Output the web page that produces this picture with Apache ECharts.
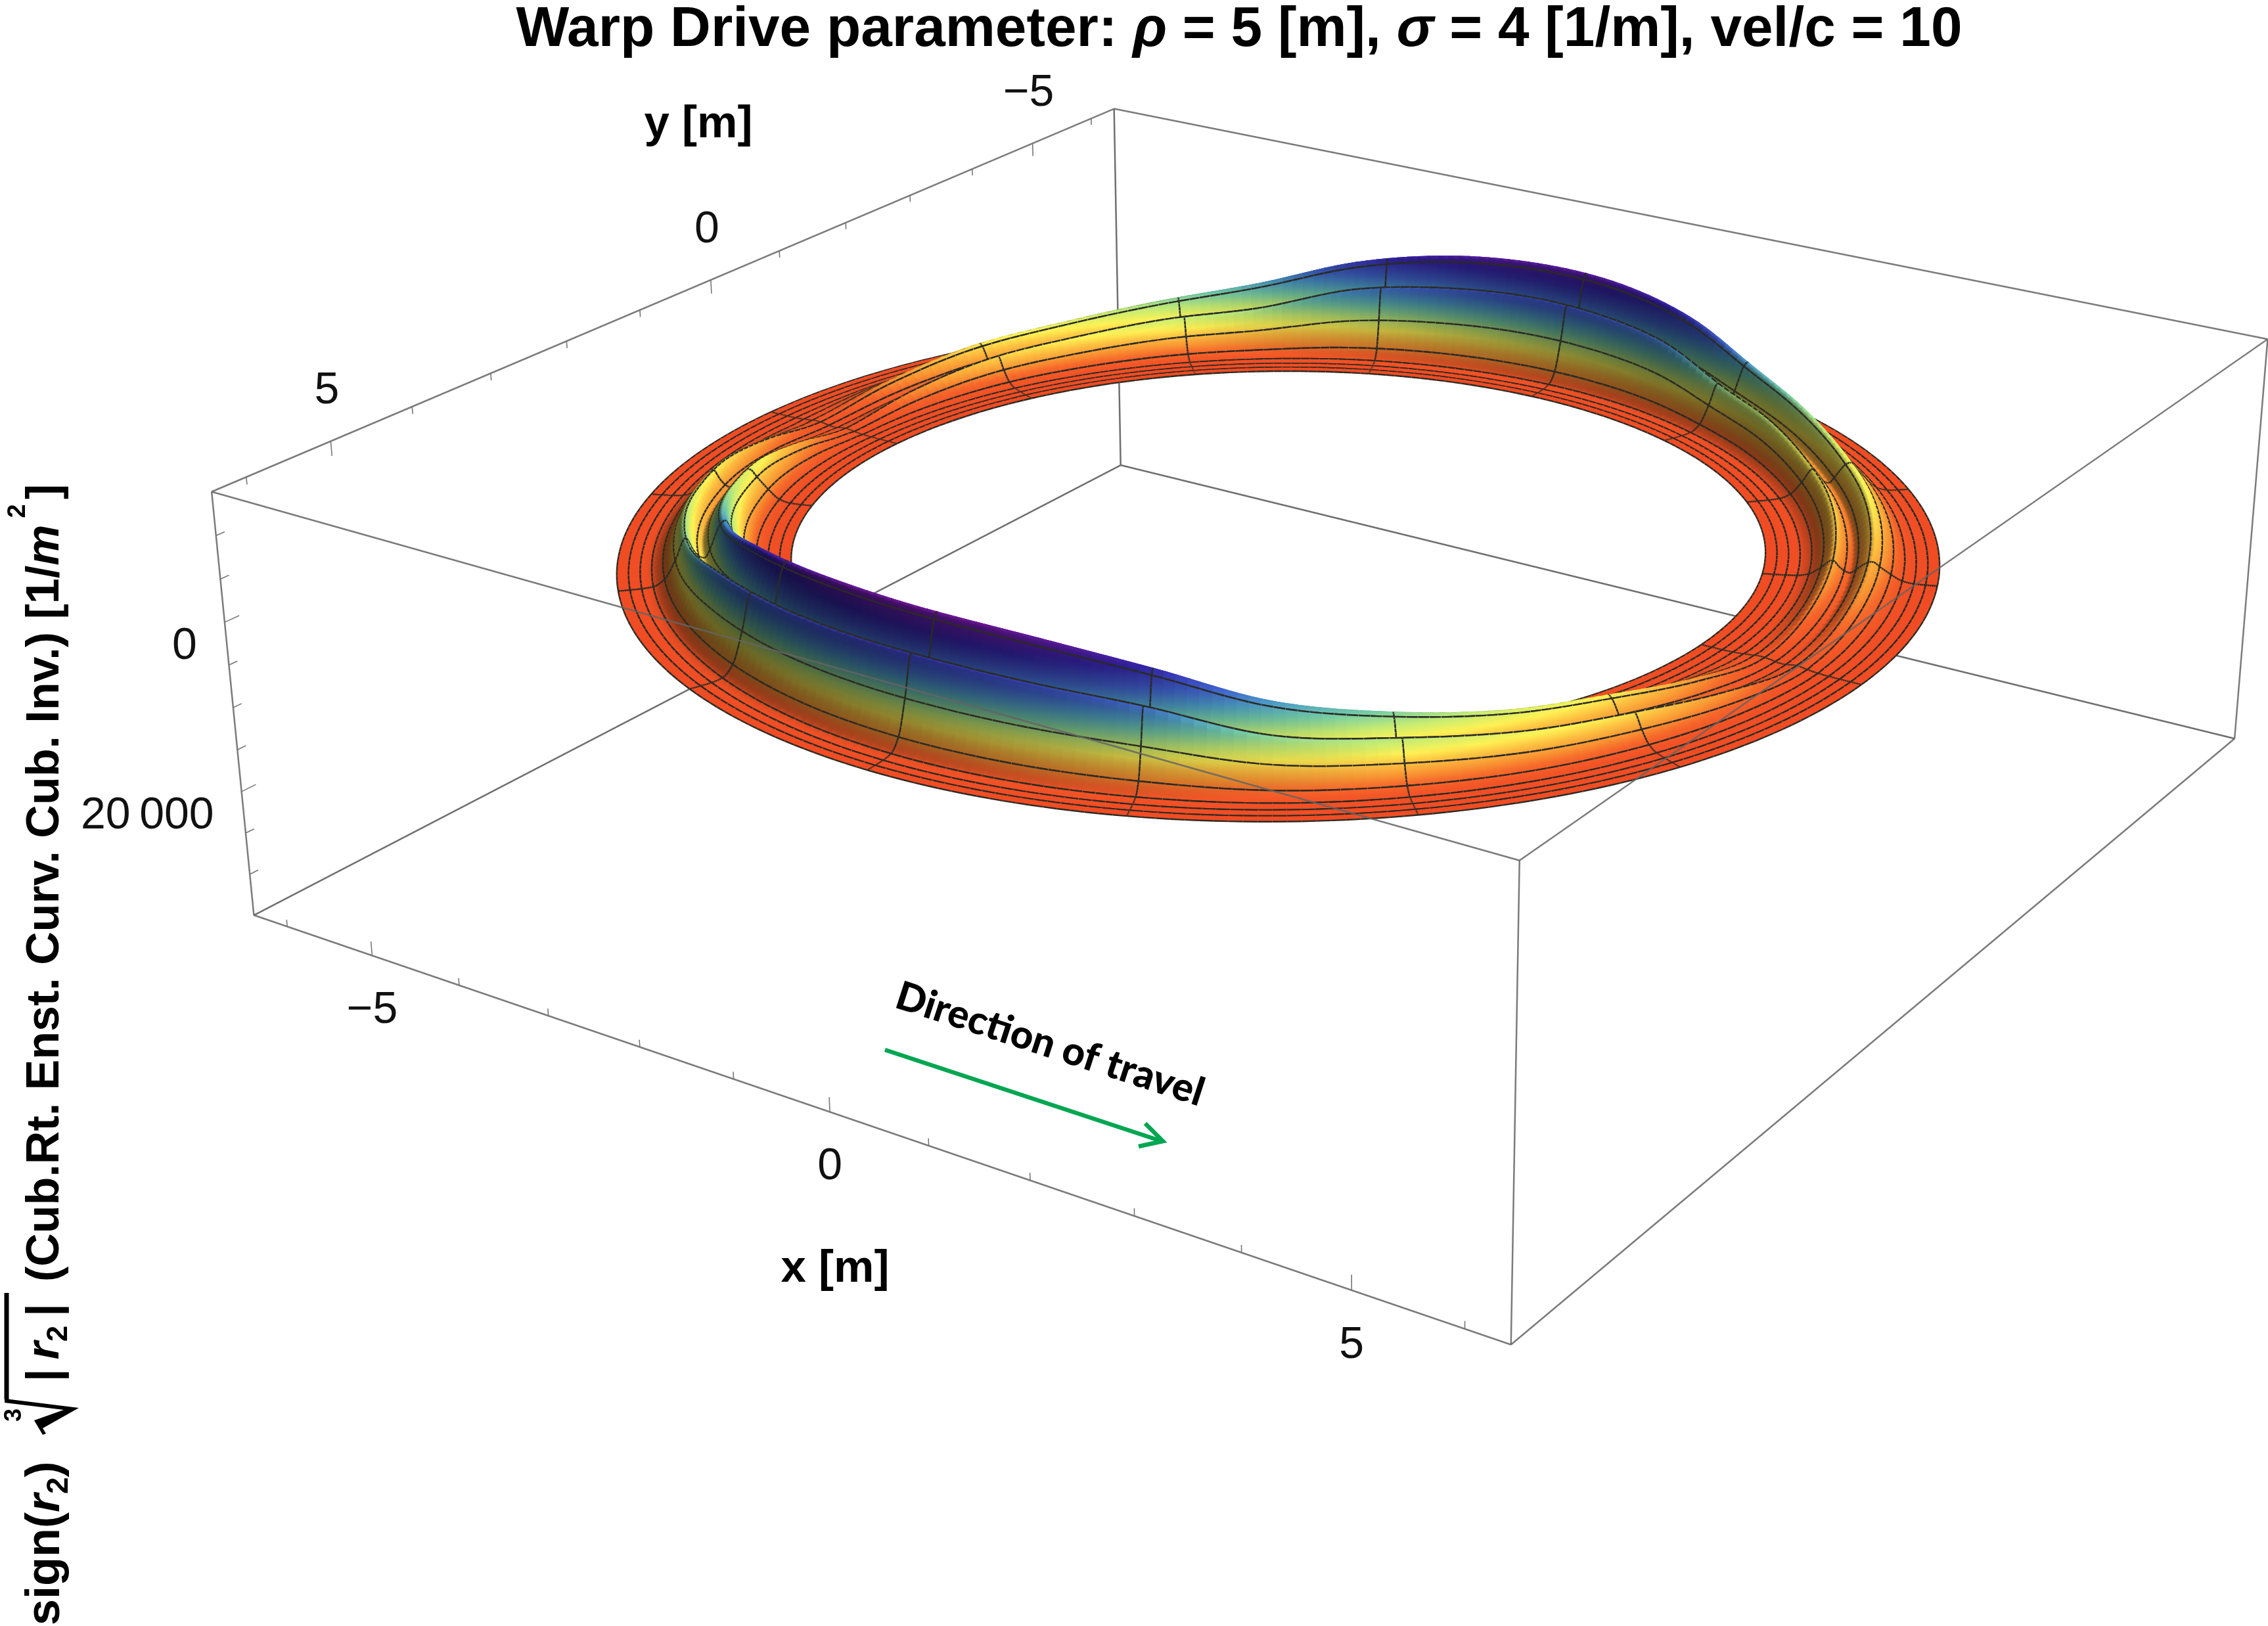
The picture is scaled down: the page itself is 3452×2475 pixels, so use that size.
<!DOCTYPE html>
<html><head><meta charset="utf-8">
<style>html,body{margin:0;padding:0;background:#fff}#c{width:3452px;height:2475px}</style>
<script src="https://cdn.jsdelivr.net/npm/echarts@6/dist/echarts.min.js"></script>
</head><body><div id="c"></div>
<script>
// ---------- values ----------
var xRange=[-6.4,6.4], yRange=[-6.4,6.4], zRange=[-15000,35000];
var xTicks=[-6,-5,-4,-3,-2,-1,0,1,2,3,4,5,6];
var yTicks=[-6,-5,-4,-3,-2,-1,0,1,2,3,4,5,6];
var zTicks=[-10000,-5000,0,5000,10000,15000,20000,25000,30000];
var xLabels=[-5,0,5], yLabels=[-5,0,5], zLabels=[0,20000];
var ringRadiiTable=[4.25,4.35,4.45,4.55,4.65,4.75,4.81,4.85,4.9,4.95,5.0,5.05,5.1,5.15,5.25,5.35,5.45,5.55,5.65,5.75];
var rowAngles=[0,11.25,22.5,33.75,45,56.25,67.5,78.75,90];
var h000=[0,3,10,45,147,273,350,330,270,180,100,140,220,330,181,56,12,3,1,0];
var h011=[0,15,57,247,798,1482,1900,1800,1450,1000,650,850,1250,1800,990,306,63,18,5,0];
var h022=[0,28,105,455,1470,2730,3500,3300,2700,1900,1300,1600,2300,3200,1760,544,112,32,10,0];
var h034=[0,35,132,572,1848,3432,4400,4200,3400,2500,1800,2100,2800,3900,2145,663,137,39,12,0];
var h045=[0,46,174,754,2436,4524,5800,5500,4500,3300,2500,2800,3600,4900,2695,833,172,49,15,0];
var h056=[0,61,227,983,3175,5900,7560,7140,5775,4200,3200,3465,4410,5775,3175,980,200,58,18,0];
var h067=[0,85,320,1390,4490,8330,10700,10100,8280,6000,4580,4900,6500,8450,4650,1440,296,85,25,0];
var h079=[0,100,375,1625,5250,9750,12500,11800,9600,6900,5300,5800,7500,9600,5280,1632,336,96,29,0];
var h090=[0,104,390,1690,5460,10140,13000,12300,10000,7200,5500,6000,7700,10000,5500,1700,350,100,30,0];
var heightRows=[h000,h011,h022,h034,h045,h056,h067,h079,h090];
// how far along the table each half of the ring reads (the two lobes are not quite mirror images)
var lobeAngle=[0,80,90,135,180];
var frontLobeRead=[0,80,90,125,180];
var backLobeAngle=[0,80,135,180];
var backLobeRead=[0,84,150,180];
var backLobeGain=0.94;
var depthMax=13000;
var colorStops=[[0,'#f04c24'],[0.07,'#f6662a'],[0.13,'#f99332'],[0.21,'#fdc442'],[0.27,'#fff254'],[0.36,'#c4ec74'],[0.46,'#74cca6'],[0.56,'#4c9cc8'],[0.66,'#4064cc'],[0.82,'#3424aa'],[1,'#701698']];

// ---------- camera: fitted to the eight box corners ----------
var W=3452,H=2475;
var corners=[[-1,1,-1,323,748],[-1,-1,-1,1695,165],[1,-1,-1,3452,517],[1,1,-1,2312,1310],
             [-1,1,1,386,1393],[-1,-1,1,1706,709],[1,-1,1,3401,1123],[1,1,1,2300,2047]];
function solveCamera(){
  var A=[],b=[];
  corners.forEach(function(c){
    var X=c[0],Y=c[1],Z=c[2],u=c[3]/W,v=c[4]/H;
    A.push([X,Y,Z,1,0,0,0,0,-u*X,-u*Y,-u*Z]);b.push(u);
    A.push([0,0,0,0,X,Y,Z,1,-v*X,-v*Y,-v*Z]);b.push(v);
  });
  var n=11,M=[];
  for(var i=0;i<n;i++){M.push([]);for(var j=0;j<=n;j++){var s=0;for(var k=0;k<A.length;k++)s+=A[k][i]*(j<n?A[k][j]:b[k]);M[i].push(s);}}
  for(i=0;i<n;i++){var p=i;for(k=i+1;k<n;k++)if(Math.abs(M[k][i])>Math.abs(M[p][i]))p=k;var t=M[i];M[i]=M[p];M[p]=t;
    for(k=0;k<n;k++)if(k!==i){var f=M[k][i]/M[i][i];for(j=i;j<=n;j++)M[k][j]-=f*M[i][j];}}
  var sol=[];for(i=0;i<n;i++)sol.push(M[i][n]/M[i][i]);return sol;
}
var cam=solveCamera();
function project(x,y,z){
  var X=(x-(xRange[0]+xRange[1])/2)/((xRange[1]-xRange[0])/2),
      Y=(y-(yRange[0]+yRange[1])/2)/((yRange[1]-yRange[0])/2),
      Z=(z-(zRange[0]+zRange[1])/2)/((zRange[1]-zRange[0])/2);
  var w=cam[8]*X+cam[9]*Y+cam[10]*Z+1;
  return [(cam[0]*X+cam[1]*Y+cam[2]*Z+cam[3])/w*W,(cam[4]*X+cam[5]*Y+cam[6]*Z+cam[7])/w*H,w];
}

// ---------- smooth reading of the height table ----------
function pchip(xs,ys){
  var n=xs.length,d=[],m=[],i;
  for(i=0;i<n-1;i++)d.push((ys[i+1]-ys[i])/(xs[i+1]-xs[i]));
  m[0]=d[0];m[n-1]=d[n-2];
  for(i=1;i<n-1;i++)m[i]=(d[i-1]*d[i]<=0)?0:2*d[i-1]*d[i]/(d[i-1]+d[i]);
  return function(x){
    if(x<=xs[0])return ys[0];if(x>=xs[n-1])return ys[n-1];
    var k=0;while(x>xs[k+1])k++;
    var h=xs[k+1]-xs[k],t=(x-xs[k])/h,t2=t*t,t3=t2*t;
    return (2*t3-3*t2+1)*ys[k]+(t3-2*t2+t)*h*m[k]+(-2*t3+3*t2)*ys[k+1]+(t3-t2)*h*m[k+1];
  };
}
function pw(xs,ys,x){for(var k=0;k<xs.length-2&&x>xs[k+1];k++);return ys[k]+(ys[k+1]-ys[k])*(x-xs[k])/(xs[k+1]-xs[k]);}
var NR=90,NT=320,ringEvery=6,spokeEvery=20,rIn=4.25,rOut=5.75;
var rowF=heightRows.map(function(r){return pchip(ringRadiiTable,r);});
var rowsAtR=rowF.map(function(f){var a=[];for(var i=0;i<=NR;i++)a.push(f(rIn+(rOut-rIn)*i/NR));return a;});
function heightAt(ir,deg){
  deg=((deg%360)+360)%360;
  var col=ir,gain=1;
  if(deg>=180){deg=pw(backLobeAngle,backLobeRead,deg-180);col=NR-ir;gain=backLobeGain;}
  else deg=pw(lobeAngle,frontLobeRead,deg);
  if(deg>90)deg=180-deg;
  var s=deg/11.25,k=Math.min(7,Math.floor(s)),t=s-k;
  function row(q){if(q<0)q=-q;if(q>8)q=16-q;return rowsAtR[q][col];}
  var a=row(k-1),b=row(k),c=row(k+1),d=row(k+2);
  return gain*0.5*(2*b+(c-a)*t+(2*a-5*b+4*c-d)*t*t+(3*b-a-3*c+d)*t*t*t);
}
function hex(c){return [parseInt(c.substr(1,2),16),parseInt(c.substr(3,2),16),parseInt(c.substr(5,2),16)];}
function colorOf(t,f){
  t=Math.max(0,Math.min(1,t));
  for(var i=0;i<colorStops.length-1;i++)if(t<=colorStops[i+1][0])break;
  var a=colorStops[i],b=colorStops[i+1],s=(t-a[0])/(b[0]-a[0]),ca=hex(a[1]),cb=hex(b[1]);
  return 'rgb('+[0,1,2].map(function(k){return Math.round((ca[k]+(cb[k]-ca[k])*s)*f);}).join(',')+')';
}
// ---------- build quads ----------
var L=[0.75,-0.45,-0.48],zWorld=9000;
var grid=[];
for(var j=0;j<=NT;j++){var line=[];var deg=j*360/NT,th=deg*Math.PI/180;
  for(var i=0;i<=NR;i++){var r=rIn+(rOut-rIn)*i/NR,x=r*Math.cos(th),y=r*Math.sin(th),z=-heightAt(i,deg);
    line.push({x:x,y:y,z:z,p:project(x,y,z)});}
  grid.push(line);}
function vertexColor(j,i){
  var i0=Math.max(0,i-2),i1=Math.min(NR,i+2),jm=grid[(j+NT-1)%NT],jp=grid[(j+1)%NT];
  var ra=grid[j][i0],rb=grid[j][i1],ta=jm[i],tb=jp[i];
  var u=[rb.x-ra.x,rb.y-ra.y,(rb.z-ra.z)/zWorld],v=[tb.x-ta.x,tb.y-ta.y,(tb.z-ta.z)/zWorld];
  var n=[u[1]*v[2]-u[2]*v[1],u[2]*v[0]-u[0]*v[2],u[0]*v[1]-u[1]*v[0]];
  var len=Math.sqrt(n[0]*n[0]+n[1]*n[1]+n[2]*n[2])||1;n=n.map(function(q){return q/len;});
  if(n[2]>0)n=n.map(function(q){return -q;});
  var dot=n[0]*L[0]+n[1]*L[1]+n[2]*L[2];
  var f=Math.max(0.42,Math.min(1,0.77+0.6*dot));
  return colorOf(-grid[j][i].z/depthMax,f);
}
var colors=[];
for(j=0;j<NT;j++){colors.push([]);for(i=0;i<=NR;i++)colors[j].push(vertexColor(j,i));}
var quads=[];
for(j=0;j<NT;j++)for(i=0;i<NR;i++){
  var a=grid[j][i],b=grid[j][i+1],c=grid[j+1][i+1],d=grid[j+1][i];
  quads.push({pts:[a.p,b.p,c.p,d.p],w:(a.p[2]+b.p[2]+c.p[2]+d.p[2])/4,c0:colors[j][i],c1:colors[j][i+1],
    ringA:i%ringEvery===0,ringB:(i+1)%ringEvery===0,spokeA:j%spokeEvery===0,spokeB:(j+1)%spokeEvery===0});
}
quads.sort(function(p,q){return q.w-p.w;});

// ---------- box lines and ticks ----------
var x0=xRange[0],x1=xRange[1],y0=yRange[0],y1=yRange[1],zt=zRange[0],zb=zRange[1];
var backEdges=[[x0,y0,zt,x0,y0,zb],[x0,y0,zb,x0,y1,zb],[x0,y0,zb,x1,y0,zb]];
var frontEdges=[[x0,y1,zt,x1,y1,zt],[x1,y1,zt,x1,y0,zt],[x0,y1,zt,x0,y0,zt],[x0,y0,zt,x1,y0,zt],
  [x0,y1,zt,x0,y1,zb],[x1,y1,zt,x1,y1,zb],[x1,y0,zt,x1,y0,zb],[x0,y1,zb,x1,y1,zb],[x1,y1,zb,x1,y0,zb]];
var tickSegs=[];
xTicks.forEach(function(t){var m=t%5===0;tickSegs.push([t,y1,zb,t,y1,zb-(m?1700:850)]);});
yTicks.forEach(function(t){var m=t%5===0;tickSegs.push([x0,t,zt,x0,t,zt+(m?1700:850)]);});
zTicks.forEach(function(t){var m=t%20000===0;tickSegs.push([x0,y1,t,x0,y1-(m?0.17:0.1),t]);});

function segSeries(name,segs,zi,color,lw){
  return {type:'custom',name:name,coordinateSystem:'cartesian2d',silent:true,animation:false,z:zi,clip:false,progressive:0,
    data:segs.map(function(s,i){return [i];}),
    renderItem:function(p,api){var s=segs[p.dataIndex],a=project(s[0],s[1],s[2]),b=project(s[3],s[4],s[5]);
      return {type:'polyline',shape:{points:[api.coord([a[0],a[1]]),api.coord([b[0],b[1]])]},style:{stroke:color,lineWidth:lw,fill:null}};}};
}
function mesh(api,a,b){return {type:'polyline',shape:{points:[api.coord([a[0],a[1]]),api.coord([b[0],b[1]])]},style:{stroke:'#2b2b24',lineWidth:2.4,fill:null}};}
var surface={type:'custom',name:'surface',coordinateSystem:'cartesian2d',silent:true,animation:false,z:2,clip:false,progressive:0,
  data:quads.map(function(q,i){return [i];}),
  renderItem:function(p,api){var q=quads[p.dataIndex],P=q.pts;
    var pts=P.map(function(t){return api.coord([t[0],t[1]]);});
    var mx0=(pts[0][0]+pts[3][0])/2,my0=(pts[0][1]+pts[3][1])/2,mx1=(pts[1][0]+pts[2][0])/2,my1=(pts[1][1]+pts[2][1])/2;
    var g=new echarts.graphic.LinearGradient(mx0,my0,mx1,my1,[{offset:0,color:q.c0},{offset:1,color:q.c1}],true);
    var poly={type:'polygon',shape:{points:pts},style:{fill:g,stroke:g,lineWidth:1.2}};
    if(!(q.ringA||q.ringB||q.spokeA||q.spokeB))return poly;
    var ch=[poly];
    if(q.ringA)ch.push(mesh(api,P[0],P[3]));
    if(q.ringB)ch.push(mesh(api,P[1],P[2]));
    if(q.spokeA)ch.push(mesh(api,P[0],P[1]));
    if(q.spokeB)ch.push(mesh(api,P[3],P[2]));
    return {type:'group',children:ch};}};

// ---------- tick labels ----------
var B='"Liberation Sans",Arial,sans-serif';
function fmt(v){return v===0?'0':(v<0?'\u2212'+(-v):(v>=1000?Math.floor(v/1000)+'\u2009'+('00'+(v%1000)).slice(-3):''+v));}
var labelItems=[];
xLabels.forEach(function(t){var p=project(t,y1,zb);labelItems.push({x:p[0],y:p[1],dx:0,dy:84,text:fmt(t),align:'center'});});
yLabels.forEach(function(t){var p=project(x0,t,zt);labelItems.push({x:p[0],y:p[1],dx:-6,dy:-76,text:fmt(t),align:'center'});});
zLabels.forEach(function(t){var p=project(x0,y1,t);labelItems.push({x:p[0],y:p[1],dx:-42,dy:37,text:fmt(t),align:'right'});});
var labels={type:'custom',name:'labels',coordinateSystem:'cartesian2d',silent:true,animation:false,z:5,clip:false,
  data:labelItems.map(function(q,i){return [i];}),
  renderItem:function(p,api){var q=labelItems[p.dataIndex],c=api.coord([q.x,q.y]);
    return {type:'text',x:c[0]+q.dx,y:c[1]+q.dy,style:{text:q.text,fill:'#111',font:'68px '+B,textAlign:q.align,textVerticalAlign:'middle'}};}};

// ---------- page furniture ----------
var bold={fontFamily:'Liberation Sans',fontWeight:'bold',fontSize:85.6,fill:'#000'};
var ital={fontFamily:'Liberation Sans',fontWeight:'bold',fontStyle:'italic',fontSize:85.6,fill:'#000'};
function rot(x,y,text,rich,extra){
  return {type:'text',x:x,y:y,rotation:Math.PI/2,z:10,silent:true,style:Object.assign({text:text,rich:rich,fill:'#000',font:'bold 70px "Liberation Sans"',textAlign:'left',textVerticalAlign:'middle'},extra||{})};
}
var r70={b:{fontFamily:'Liberation Sans',fontWeight:'bold',fontSize:70},i:{fontFamily:'Liberation Sans',fontWeight:'bold',fontStyle:'italic',fontSize:70},s:{fontFamily:'Liberation Sans',fontWeight:'bold',fontSize:44,verticalAlign:'bottom',lineHeight:84}};
var r72={b:{fontFamily:'Liberation Sans',fontWeight:'bold',fontSize:72},i:{fontFamily:'Liberation Sans',fontWeight:'bold',fontStyle:'italic',fontSize:72},s:{fontFamily:'Liberation Sans',fontWeight:'bold',fontSize:46,verticalAlign:'bottom',lineHeight:86}};
var graphics=[
 {type:'text',x:1886,y:46,z:10,silent:true,style:{text:'{b|Warp Drive parameter: }{i|\u03c1}{b| = 5 [m], }{i|\u03c3}{b| = 4 [1/m], vel/c = 10}',rich:{b:bold,i:ital},textAlign:'center',textVerticalAlign:'middle'}},
 {type:'text',x:1063,y:190,z:10,silent:true,style:{text:'y [m]',fill:'#000',font:'bold 69px "Liberation Sans"',textAlign:'center',textVerticalAlign:'middle'}},
 {type:'text',x:1271,y:1932,z:10,silent:true,style:{text:'x [m]',fill:'#000',font:'bold 69px "Liberation Sans"',textAlign:'center',textVerticalAlign:'middle'}},
 rot(70,2474,'{b|sign(}{i|r}{s|2}{b|)}',r72),
 rot(70,2103,'{b||\u2009}{i|r}{s|2}{b|\u2009|}',r70),
 rot(70,1951,'{b|(Cub.Rt. Enst. Curv. Cub. Inv.) [1/}{i|m}',r70),
 rot(70,760,'{b|]}',r70),
 {type:'text',x:28,y:778,rotation:Math.PI/2,z:10,silent:true,style:{text:'2',fill:'#000',font:'bold 38px "Liberation Sans"',textAlign:'center',textVerticalAlign:'middle'}},
 {type:'text',x:22,y:2154,rotation:Math.PI/2,z:10,silent:true,style:{text:'3',fill:'#000',font:'bold 36px "Liberation Sans"',textAlign:'center',textVerticalAlign:'middle'}},
 {type:'polyline',z:10,silent:true,shape:{points:[[10,1968],[10,2130]]},style:{stroke:'#000',lineWidth:7,fill:null}},
 {type:'polygon',z:10,silent:true,shape:{points:[[7,2129],[120,2143],[65,2174],[70,2182],[65,2184],[52,2162],[97,2146],[7,2135]]},style:{fill:'#000'}},
 {type:'polyline',z:10,silent:true,shape:{points:[[1347,1598],[1768,1737]]},style:{stroke:'#00a651',lineWidth:6.5,fill:null}},
 {type:'polyline',z:10,silent:true,shape:{points:[[1743,1710],[1770,1737],[1733,1745]]},style:{stroke:'#00a651',lineWidth:6.5,fill:null}},
 {type:'text',x:1598,y:1590,rotation:-18*Math.PI/180,z:10,silent:true,style:{text:'Direction of travel',fill:'#000',font:'900 60px Lato',textAlign:'center',textVerticalAlign:'middle'}}
];

var chart=echarts.init(document.getElementById('c'),null,{renderer:'canvas',width:W,height:H});
chart.setOption({
  animation:false,backgroundColor:'#ffffff',
  grid:{left:0,right:0,top:0,bottom:0,containLabel:false},
  xAxis:{type:'value',min:0,max:W,show:false},
  yAxis:{type:'value',min:0,max:H,inverse:true,show:false},
  series:[segSeries('back',backEdges,1,'#6f6f6f',2.5),surface,segSeries('front',frontEdges,3,'rgba(100,100,100,0.85)',2.5),segSeries('ticks',tickSegs,3,'#777',1.6),labels],
  graphic:graphics
});
</script></body></html>
